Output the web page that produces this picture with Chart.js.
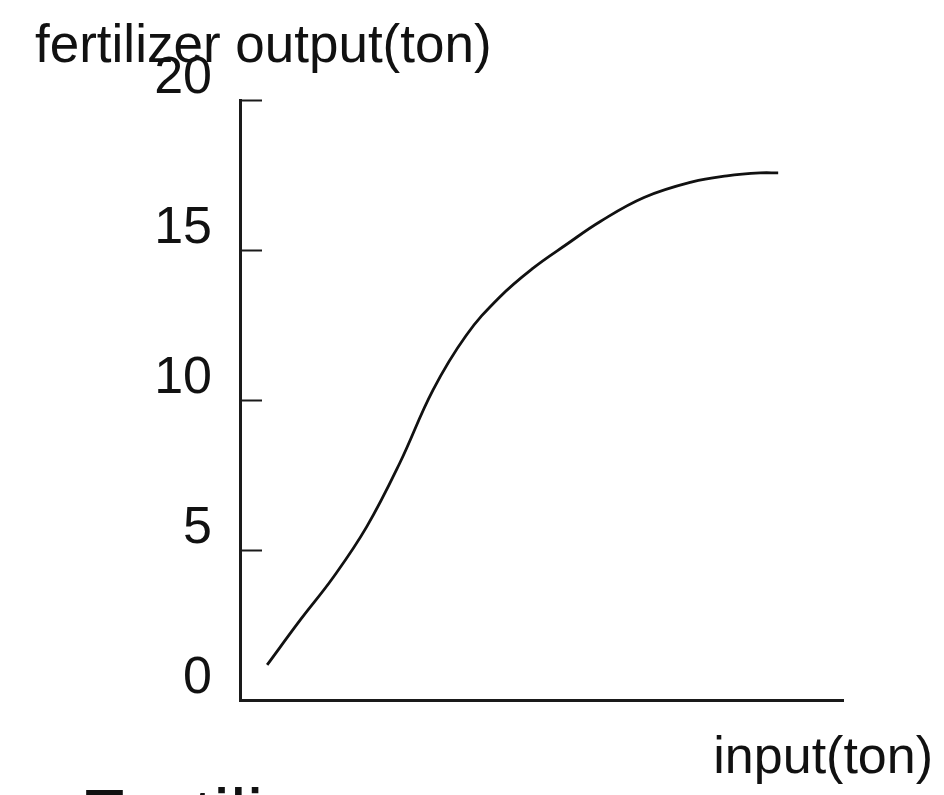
<!DOCTYPE html>
<html>
<head>
<meta charset="utf-8">
<script src="https://cdn.jsdelivr.net/npm/chart.js@4/dist/chart.umd.min.js"></script>
<style>
	html, body { margin: 0; padding: 0; background: #fff; }
	#wrap { width: 944px; height: 795px; position: relative; }
</style>
</head>
<body>
<div id="wrap"><canvas id="fertilizerChart" width="944" height="795"></canvas></div>
<script>
	const inputTons = [0.9, 2.0, 3.1, 4.2, 5.3, 6.4, 7.5, 8.6, 9.7, 10.85, 11.95, 13.4, 15.0, 16.15, 17.25, 17.85];
	const outputTons = [1.17, 2.67, 4.1, 5.77, 7.9, 10.33, 12.15, 13.42, 14.38, 15.2, 15.95, 16.75, 17.27, 17.47, 17.57, 17.57];
	const yTicks = [0, 5, 10, 15, 20];
	const yCaption = 'fertilizer output(ton)';
	const xCaption = 'input(ton)';
	const footCaption = 'Fertilizer';

	const fontFamily = '"Liberation Sans", Arial, sans-serif';
	const ink = '#111';

	// captions sit outside the axes, so they are drawn relative to the chart area
	const captions = {
		id: 'captions',
		afterDraw(chart) {
			const { ctx, chartArea } = chart;
			ctx.save();
			ctx.fillStyle = ink;
			ctx.textBaseline = 'alphabetic';
			ctx.font = '53px ' + fontFamily;
			ctx.textAlign = 'left';
			ctx.fillText(yCaption, chartArea.left - 205, chartArea.top - 38);
			ctx.font = '52px ' + fontFamily;
			ctx.textAlign = 'right';
			ctx.fillText(xCaption, chartArea.right + 90, chartArea.bottom + 73);
			ctx.font = '75px ' + fontFamily;
			ctx.textAlign = 'left';
			ctx.fillText(footCaption, 80, chartArea.bottom + 141);
			ctx.restore();
		}
	};

	new Chart(document.getElementById('fertilizerChart'), {
		type: 'line',
		data: {
			datasets: [{
				data: inputTons.map((x, i) => ({ x, y: outputTons[i] })),
				borderColor: ink,
				borderWidth: 2.8,
				pointRadius: 0,
				fill: false,
				tension: 0.4
			}]
		},
		options: {
			responsive: false,
			animation: false,
			layout: { padding: { top: 100, right: 101, left: 0, bottom: 0 } },
			plugins: { legend: { display: false }, tooltip: { enabled: false } },
			scales: {
				x: {
					type: 'linear',
					min: 0,
					max: 20,
					grid: { drawOnChartArea: false, drawTicks: false },
					border: { color: '#1a1a1a', width: 3 },
					ticks: { display: false },
					afterFit: scale => { scale.height = 95; }
				},
				y: {
					min: 0,
					max: 20,
					afterBuildTicks: scale => { scale.ticks = yTicks.map(value => ({ value })); },
					grid: {
						drawOnChartArea: false,
						tickLength: -22,
						tickWidth: 2,
						tickColor: value => value.tick.value === 0 ? 'rgba(0,0,0,0)' : '#1a1a1a'
					},
					border: { color: '#1a1a1a', width: 3 },
					ticks: {
						color: ink,
						padding: 50,
						labelOffset: -21,
						font: { family: fontFamily, size: 52 }
					},
					afterFit: scale => { scale.width = 240; }
				}
			}
		},
		plugins: [captions]
	});
</script>
</body>
</html>
